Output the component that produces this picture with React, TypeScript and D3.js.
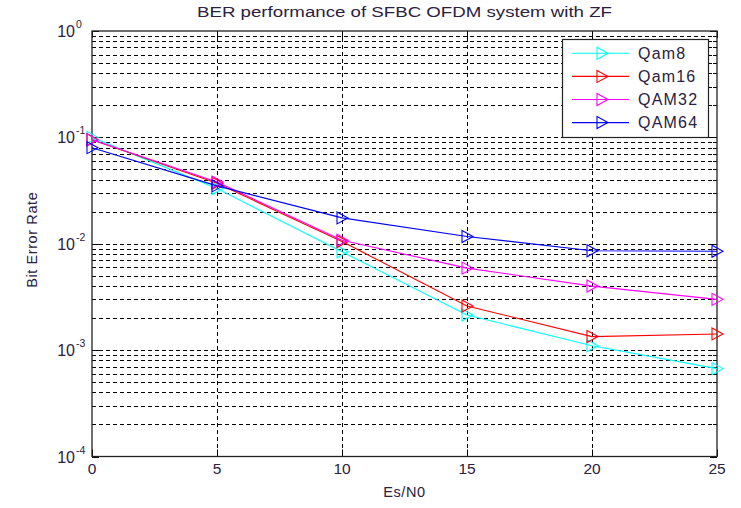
import React, { useEffect, useRef } from "react";
import { scaleLinear, scaleLog, select, line, range } from "d3";

const snr = [0, 5, 10, 15, 20, 25];
const qam8 = [0.1, 0.033, 0.0084, 0.00214, 0.0011, 0.00067];
const qam16 = [0.095, 0.037, 0.0105, 0.0026, 0.00134, 0.00142];
const qam32 = [0.095, 0.038, 0.0108, 0.0059, 0.004, 0.003];
const qam64 = [0.08, 0.035, 0.0175, 0.0117, 0.0086, 0.0085];
const seriesNames = ["Qam8", "Qam16", "QAM32", "QAM64"];
const seriesColors = ["#00ffff", "#ff0000", "#ff00ff", "#0000ff"];
const xTicks = [0, 5, 10, 15, 20, 25];
const yMajor = [1e-4, 1e-3, 1e-2, 1e-1, 1];

const W = 741;
const H = 508;
const plot = { left: 92, right: 717, top: 31, bottom: 456.5 };
const textColor = "#2a2142";
const font = "'Liberation Sans', Arial, sans-serif";

export default function App() {
  const svgRef = useRef<SVGSVGElement>(null);

  useEffect(() => {
    const svg = select(svgRef.current);
    svg.selectAll("*").remove();

    const x = scaleLinear().domain([0, 25]).range([plot.left, plot.right]);
    const y = scaleLog().domain([1e-4, 1]).range([plot.bottom, plot.top]);

    // white background
    svg.append("rect").attr("width", W).attr("height", H).attr("fill", "#fff");

    // grid values: 1..9 per decade
    const gridVals: number[] = [];
    for (let d = -4; d < 0; d++) {
      for (let k = 1; k <= 9; k++) {
        const v = k * Math.pow(10, d);
        if (v > 1e-4 && v < 1) gridVals.push(v);
      }
    }

    const grid = svg.append("g").attr("stroke", "#000").attr("stroke-width", 1).attr("stroke-dasharray", "4,3");
    grid
      .selectAll("line.h")
      .data(gridVals)
      .enter()
      .append("line")
      .attr("x1", plot.left)
      .attr("x2", plot.right)
      .attr("y1", (d) => Math.round(y(d)) + 0.5)
      .attr("y2", (d) => Math.round(y(d)) + 0.5);
    grid
      .selectAll("line.v")
      .data(xTicks.slice(1, -1))
      .enter()
      .append("line")
      .attr("x1", (d) => Math.round(x(d)) + 0.5)
      .attr("x2", (d) => Math.round(x(d)) + 0.5)
      .attr("y1", plot.top)
      .attr("y2", plot.bottom);

    // ticks
    const ticks = svg.append("g").attr("stroke", "#000").attr("stroke-width", 1);
    gridVals.concat(yMajor).forEach((v) => {
      const isMajor = yMajor.includes(v);
      const len = isMajor ? 7 : 4;
      const yy = Math.round(y(v)) + 0.5;
      ticks.append("line").attr("x1", plot.left).attr("x2", plot.left + len).attr("y1", yy).attr("y2", yy);
      ticks.append("line").attr("x1", plot.right).attr("x2", plot.right - len).attr("y1", yy).attr("y2", yy);
    });
    xTicks.forEach((v) => {
      const xx = Math.round(x(v)) + 0.5;
      ticks.append("line").attr("x1", xx).attr("x2", xx).attr("y1", plot.bottom).attr("y2", plot.bottom - 7);
      ticks.append("line").attr("x1", xx).attr("x2", xx).attr("y1", plot.top).attr("y2", plot.top + 7);
    });

    // axes box
    svg
      .append("rect")
      .attr("x", plot.left)
      .attr("y", plot.top)
      .attr("width", plot.right - plot.left)
      .attr("height", plot.bottom - plot.top)
      .attr("fill", "none")
      .attr("stroke", "#222")
      .attr("stroke-width", 1.3);

    // tick labels
    const labels = svg.append("g").attr("fill", textColor).attr("font-family", font);
    xTicks.forEach((v) => {
      labels
        .append("text")
        .attr("x", x(v))
        .attr("y", 474)
        .attr("text-anchor", "middle")
        .attr("font-size", 15.5)
        .text(String(v));
    });
    yMajor.forEach((v) => {
      const yy = y(v);
      labels
        .append("text")
        .attr("x", 75)
        .attr("y", yy + 6)
        .attr("text-anchor", "end")
        .attr("font-size", 16)
        .text("10");
      labels
        .append("text")
        .attr("x", 76)
        .attr("y", yy - 3)
        .attr("font-size", 10.5)
        .text(String(Math.round(Math.log10(v))));
    });

    // title and axis labels
    labels
      .append("text")
      .attr("x", (plot.left + plot.right) / 2)
      .attr("y", 17)
      .attr("text-anchor", "middle")
      .attr("font-size", 14)
      .attr("textLength", 415)
      .attr("lengthAdjust", "spacingAndGlyphs")
      .text("BER performance of SFBC OFDM system with ZF");
    labels
      .append("text")
      .attr("x", (plot.left + plot.right) / 2)
      .attr("y", 497)
      .attr("text-anchor", "middle")
      .attr("font-size", 14.5)
      .attr("letter-spacing", 0.6)
      .text("Es/N0");
    labels
      .append("text")
      .attr("transform", `translate(37,${(plot.top + plot.bottom) / 2 - 4}) rotate(-90)`)
      .attr("text-anchor", "middle")
      .attr("font-size", 14.5)
      .attr("letter-spacing", 0.6)
      .text("Bit Error Rate");

    // series
    const allSeries = [qam8, qam16, qam32, qam64];
    const lineGen = line<number>()
      .x((_, i) => x(snr[i]))
      .y((d) => y(d));
    const tri = (cx: number, cy: number) =>
      `M${cx - 5},${cy - 6}L${cx + 6},${cy}L${cx - 5},${cy + 6}Z`;

    allSeries.forEach((vals, si) => {
      const g = svg.append("g");
      g.append("path")
        .attr("d", lineGen(vals))
        .attr("fill", "none")
        .attr("stroke", seriesColors[si])
        .attr("stroke-width", 1.1);
      g.selectAll("path.m")
        .data(vals)
        .enter()
        .append("path")
        .attr("d", (d, i) => tri(x(snr[i]), y(d)))
        .attr("fill", "none")
        .attr("stroke", seriesColors[si])
        .attr("stroke-width", 1.1);
    });

    // legend
    const lg = svg.append("g");
    lg.append("rect")
      .attr("x", 562.5)
      .attr("y", 39.5)
      .attr("width", 146)
      .attr("height", 98)
      .attr("fill", "#fff")
      .attr("stroke", "#222")
      .attr("stroke-width", 1.2);
    range(seriesNames.length).forEach((i) => {
      const ly = 53.3 + i * 23.1;
      lg.append("line")
        .attr("x1", 572)
        .attr("x2", 629)
        .attr("y1", ly)
        .attr("y2", ly)
        .attr("stroke", seriesColors[i])
        .attr("stroke-width", 1.1);
      lg.append("path")
        .attr("d", tri(602, ly))
        .attr("fill", "none")
        .attr("stroke", seriesColors[i])
        .attr("stroke-width", 1.1);
      lg.append("text")
        .attr("x", 638)
        .attr("y", ly + 5.5)
        .attr("font-size", 16)
        .attr("letter-spacing", 1.2)
        .attr("fill", textColor)
        .attr("font-family", font)
        .text(seriesNames[i]);
    });
  }, []);

  return (
    <div style={{ position: "absolute", left: 0, top: 0 }}>
      <svg ref={svgRef} width={W} height={H} style={{ display: "block" }} />
    </div>
  );
}
